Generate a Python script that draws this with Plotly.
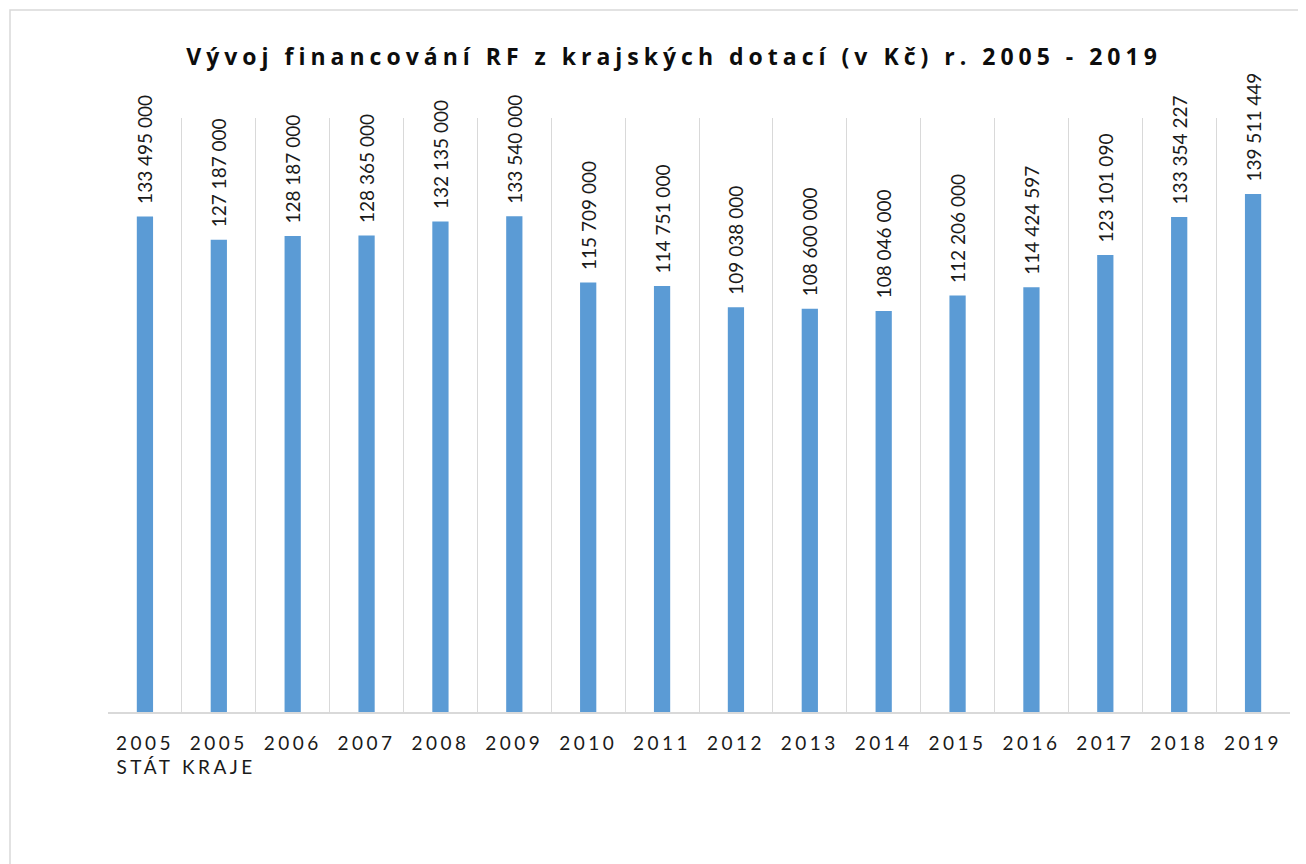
import plotly.graph_objects as go

categories = ["2005<br>STÁT", "2005<br>KRAJE", "2006", "2007", "2008", "2009", "2010", "2011",
              "2012", "2013", "2014", "2015", "2016", "2017", "2018", "2019"]
values = [133495000, 127187000, 128187000, 128365000, 132135000, 133540000, 115709000, 114751000,
          109038000, 108600000, 108046000, 112206000, 114424597, 123101090, 133354227, 139511449]
value_labels = ["133 495 000", "127 187 000", "128 187 000", "128 365 000", "132 135 000", "133 540 000",
                "115 709 000", "114 751 000", "109 038 000", "108 600 000", "108 046 000", "112 206 000",
                "114 424 597", "123 101 090", "133 354 227", "139 511 449"]
title_text = "Vývoj financování RF z krajských dotací (v Kč) r. 2005 - 2019"

# page has 8px body margin -> figure is 8px smaller and offsets shifted by 8
W, H = 1298, 856
L, R, T, B = 100, 16, 110, 152
pw, ph = W - L - R, H - T - B

fig = go.Figure()
fig.add_trace(go.Bar(
    x=categories, y=values, text=value_labels, texttemplate="\u2002%{text}",
    textposition="outside", textangle=-90,
    textfont=dict(family="Lato, Open Sans, sans-serif", size=19, color="#1a1a1a"),
    marker=dict(color="#5B9BD5", line=dict(width=0)), width=0.22,
    cliponaxis=False, constraintext="none", hoverinfo="x+y"))

fig.update_layout(
    width=W, height=H, margin=dict(l=L, r=R, t=T, b=B),
    paper_bgcolor="white", plot_bgcolor="white", showlegend=False,
    font=dict(family="Lato, Open Sans, sans-serif", color="#1a1a1a"),
    title=dict(text="<b>" + title_text + "</b>", x=666 / W, xref="container", xanchor="center",
               y=1 - 49 / H, yref="container", yanchor="middle",
               font=dict(family="Open Sans, Lato, sans-serif", size=23, color="#0d0d0d")),
    xaxis=dict(type="category", tickson="boundaries", showgrid=True, gridcolor="#D9D9D9", gridwidth=1,
               showline=True, linecolor="#D9D9D9", linewidth=1.5, ticks="", ticklabelstandoff=13,
               tickfont=dict(size=19, color="#1a1a1a"), tickangle=0),
    yaxis=dict(range=[0, 160000000], showgrid=False, showticklabels=False, zeroline=False, showline=False),
    shapes=[dict(type="rect", xref="paper", yref="paper",
                 x0=(2 - L) / pw, x1=(W + 5 - L) / pw,
                 y0=(H - B - (H + 5)) / ph, y1=(H - B - 2) / ph,
                 line=dict(color="#D9D9D9", width=1.5), fillcolor="rgba(0,0,0,0)", layer="below")],
)

post = """
var gd = document.getElementById('{plot_id}');
gd.querySelectorAll('.gtitle').forEach(function(e){ e.style.letterSpacing = '5px'; });
gd.querySelectorAll('.xtick text').forEach(function(e){ e.style.letterSpacing = '3.5px'; });
"""
fig.write_html("out.html", post_script=post)
